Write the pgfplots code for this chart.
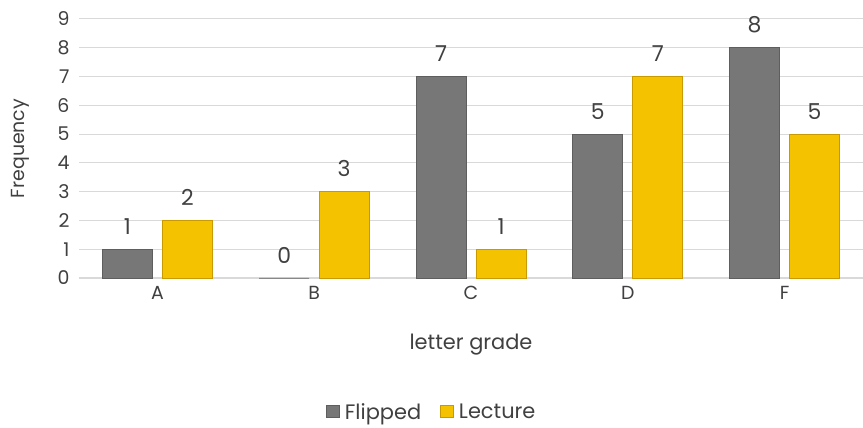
\documentclass[border=0pt]{standalone}
\usepackage{fontspec}
\setmainfont{Poppins}
\usepackage{pgfplots}
\pgfplotsset{compat=1.18}
\usetikzlibrary{calc}
\definecolor{flip}{HTML}{777777}
\definecolor{flipedge}{HTML}{5E5E5E}
\definecolor{lect}{HTML}{F5C200}
\definecolor{lectedge}{HTML}{C99A00}
\definecolor{gridc}{HTML}{D9D9D9}
\definecolor{txt}{HTML}{404040}
\begin{document}
\begin{tikzpicture}
\begin{axis}[
    scale only axis,
    width=784bp, height=259bp,
    ybar=10bp, bar width=50bp,
    xmin=-0.5, xmax=4.5,
    ymin=0, ymax=9,
    xtick={0,1,2,3,4},
    xticklabels={A,B,C,D,F},
    ytick={0,1,...,9},
    major tick length=0pt,
    axis x line*=bottom,
    axis y line*=left,
    y axis line style={draw=none},
    x axis line style={gridc, line width=1.2bp, -},
    ymajorgrids=true,
    grid style={gridc, line width=1bp},
    /pgf/number format/assume math mode=true,
    tick label style={font=\fontsize{19}{22}\selectfont, text=txt},
    xticklabel style={yshift=-5bp},
    yticklabel style={xshift=-6bp},
    xlabel={letter grade},
    xlabel style={font=\fontsize{21}{24}\selectfont, text=txt, at={(axis description cs:0.5,-0.259)}, anchor=center},
    ylabel={Frequency},
    every axis y label/.style={at={(axis description cs:0,0.5)}, xshift=-59bp, rotate=90, anchor=center,
        font=\fontsize{19}{22}\selectfont, text=txt},
    nodes near coords,
    nodes near coords style={font=\fontsize{22}{26}\selectfont, text=txt, yshift=11bp},
    clip=false,
    legend style={at={(axis description cs:0.45,-0.517)}, anchor=center, draw=none,
        font=\fontsize{21}{24}\selectfont, text=txt, column sep=3bp,
        /tikz/every even column/.append style={column sep=17bp}},
    legend columns=2,
    legend image code/.code={\fill[#1] (0bp,-6bp) rectangle (13bp,6bp);},
]
\addplot[fill=flip, draw=flipedge, line width=0.8bp] coordinates {(0,1) (1,0) (2,7) (3,5) (4,8)};
\addlegendentry{Flipped}
\addplot[fill=lect, draw=lectedge, line width=0.8bp] coordinates {(0,2) (1,3) (2,1) (3,7) (4,5)};
\addlegendentry{Lecture}
\coordinate (bl) at (rel axis cs:0,0);
\coordinate (tr) at (rel axis cs:1,1);
\end{axis}
\pgfresetboundingbox
\path ($(bl)+(-79bp,-150bp)$) rectangle ($(tr)+(0bp,19bp)$);
\end{tikzpicture}
\end{document}
